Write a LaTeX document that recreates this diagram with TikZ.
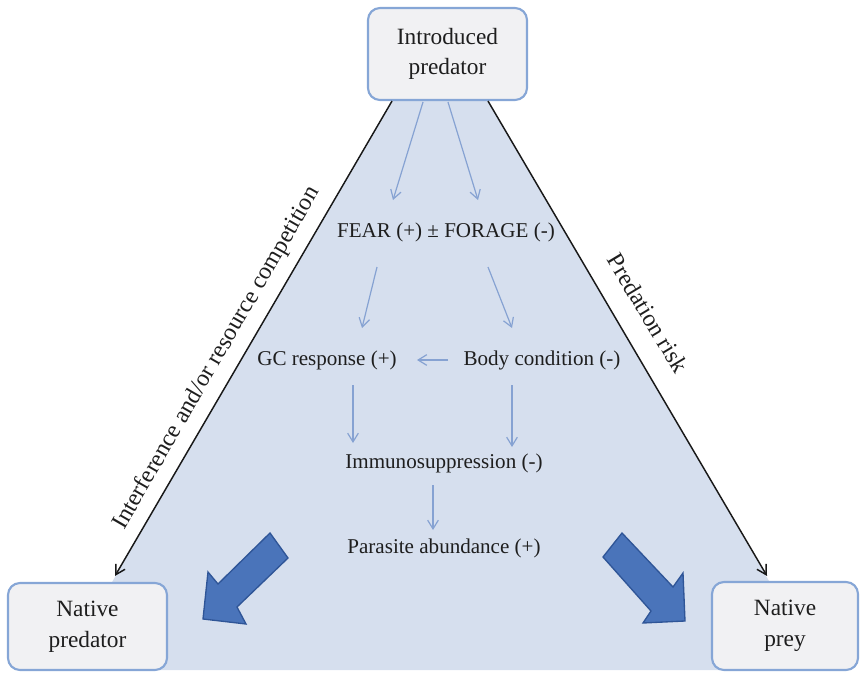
\documentclass[tikz,border=0pt]{standalone}
\usepackage{fontspec}
\setmainfont{Liberation Serif}
\usetikzlibrary{arrows.meta,calc}
\definecolor{trishade}{HTML}{D6DFEE}
\definecolor{boxfill}{HTML}{F1F1F3}
\definecolor{boxline}{HTML}{86A6D6}
\definecolor{thinblue}{HTML}{86A2D2}
\definecolor{bigfill}{HTML}{4A74BA}
\definecolor{bigline}{HTML}{2F5597}
\definecolor{txt}{HTML}{1E1E1E}
\tikzset{
  box/.style={draw=boxline, line width=1.6pt, fill=boxfill, rounded corners=9pt,
    align=center, text=txt, font=\fontsize{17.5pt}{23pt}\selectfont, inner sep=0pt},
  lbl/.style={text=txt, font=\fontsize{15.8pt}{19pt}\selectfont, inner sep=1pt},
  rlbl/.style={text=txt, font=\fontsize{18pt}{20pt}\selectfont, inner sep=0pt},
  blk/.style={draw=black!90, line width=1.1pt, -{Straight Barb[length=7pt,width=8pt,line width=1.1pt]}},
  blu/.style={draw=thinblue, line width=0.9pt, -{Straight Barb[length=6.5pt,width=8pt,line width=0.9pt]}},
  bigarrow/.style={fill=bigfill, draw=bigline, line width=1pt, line join=miter}
}
\begin{document}
\begin{tikzpicture}[x=0.75pt,y=-0.75pt]
\useasboundingbox (0,0) rectangle (860,674);
% shaded triangle
\fill[trishade] (392,100) -- (488,100) -- (821,670) -- (61,670) -- cycle;
% boxes
\node[box, minimum width=119.25pt, minimum height=69pt] (intro) at (447.5,54) {Introduced\\predator};
\node[box, minimum width=119.25pt, minimum height=65.25pt] (natpred) at (87.5,626.5) {Native\\predator};
\node[box, minimum width=109.5pt, minimum height=66pt] (natprey) at (785,626) {Native\\prey};
% inner texts
\node[lbl] (fear) at (446,232) {FEAR (+) ± FORAGE (-)};
\node[lbl] (gc) at (327,360) {GC response (+)};
\node[lbl] (body) at (542,360) {Body condition (-)};
\node[lbl] (immuno) at (444,463) {Immunosuppression (-)};
\node[lbl] (para) at (444,548) {Parasite abundance (+)};
% black connectors
\draw[blk] ($(intro.south)+(-55.5,0)$) -- ($(natpred.north)+(27.5,-6)$);
\draw[blk] ($(intro.south)+(40.5,0)$) -- ($(natprey.north)+(-18,-5)$);
% rotated labels
\node[rlbl, rotate=60] (lbl1) at (217,358) {Interference and/or resource competition};
\node[rlbl, rotate=-59] (lbl2) at (648,313) {Predation risk};
% thin blue arrows
\draw[blu] ($(intro.south)+(-24.5,1)$) -- ($(fear)+(-53,-32)$);
\draw[blu] ($(intro.south)+(0.5,1)$) -- ($(fear)+(32,-32)$);
\draw[blu] ($(fear)+(-69,35)$) -- ($(gc)+(35,-32)$);
\draw[blu] ($(fear)+(42,35)$) -- ($(body)+(-30,-32)$);
\draw[blu] ($(body)+(-94,0)$) -- ($(gc)+(90,0)$);
\draw[blu] ($(gc)+(26,25)$) -- ($(immuno)+(-91,-20)$);
\draw[blu] ($(body)+(-30,25)$) -- ($(immuno)+(68,-16)$);
\draw[blu] ($(immuno)+(-11,22)$) -- ($(para)+(-11,-18)$);
% big block arrows
\draw[bigarrow] (270,533) -- (288,558) -- (237,607) -- (246,624) -- (203,619) -- (208,572) -- (218,584) -- cycle;
\draw[bigarrow] (622,533) -- (603,557) -- (651,611) -- (643,623) -- (685,621) -- (683,573) -- (673,587) -- cycle;
\end{tikzpicture}
\end{document}
